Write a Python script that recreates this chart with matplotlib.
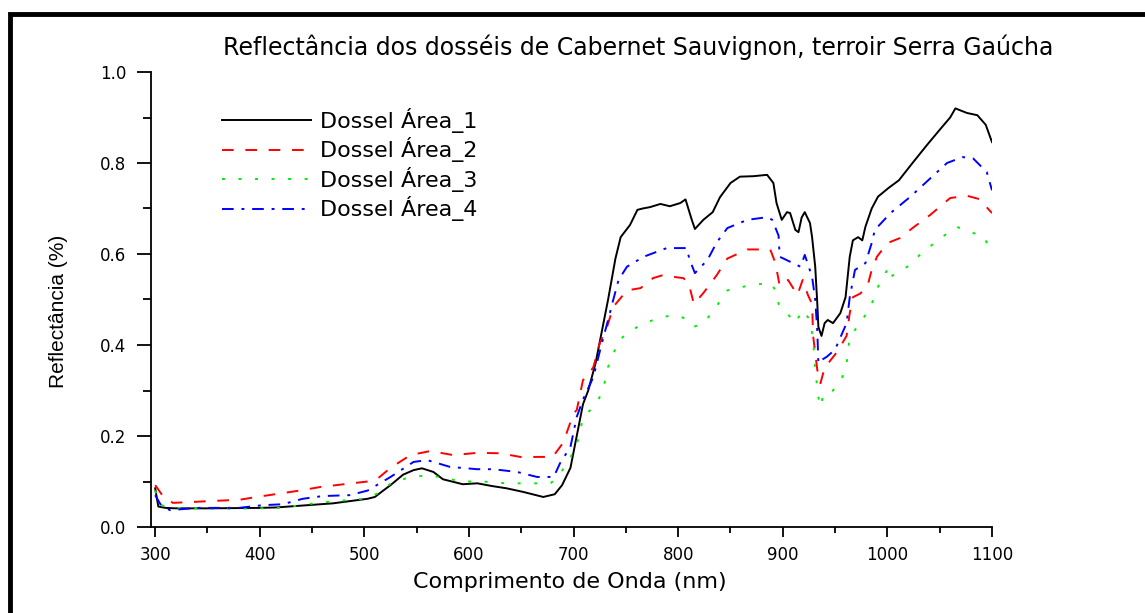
import matplotlib
matplotlib.use('Agg')
import matplotlib.pyplot as plt
from matplotlib.patches import Rectangle
from matplotlib.ticker import MultipleLocator

# Wavelengths (nm) and reflectance, one set per canopy area
wl_1 = [300, 303, 310, 320, 350, 400, 416, 440, 470, 503,
        510, 518, 525, 537, 547, 555, 566, 575, 594, 608,
        622, 636, 652, 671, 682, 689, 697, 703, 709, 714,
        721, 727, 733, 740, 745, 754, 761, 766, 773, 783,
        792, 802, 807, 813, 816, 824, 833, 840, 850, 859,
        872, 885, 891, 894, 899, 904, 907, 912, 915, 918,
        921, 926, 928, 931, 933, 934, 937, 940, 943, 948,
        955, 960, 964, 967, 972, 976, 979, 985, 991, 1001,
        1011, 1024, 1038, 1050, 1060, 1065, 1076, 1086, 1094, 1100]
r_1 = [0.085, 0.045, 0.042, 0.041, 0.041, 0.042, 0.043, 0.047, 0.052, 0.062,
       0.066, 0.080, 0.092, 0.115, 0.125, 0.129, 0.121, 0.105, 0.094, 0.096,
       0.090, 0.085, 0.077, 0.066, 0.072, 0.092, 0.130, 0.200, 0.270, 0.300,
       0.360, 0.430, 0.500, 0.590, 0.637, 0.664, 0.697, 0.700, 0.703, 0.710,
       0.705, 0.712, 0.720, 0.675, 0.655, 0.675, 0.692, 0.725, 0.756, 0.770,
       0.771, 0.774, 0.756, 0.712, 0.675, 0.692, 0.690, 0.653, 0.648, 0.680,
       0.692, 0.668, 0.637, 0.572, 0.490, 0.440, 0.420, 0.448, 0.455, 0.448,
       0.470, 0.505, 0.594, 0.630, 0.637, 0.630, 0.660, 0.700, 0.726, 0.745,
       0.762, 0.800, 0.840, 0.873, 0.900, 0.920, 0.910, 0.905, 0.884, 0.846]

wl_2 = [300, 308, 317, 335, 381, 397, 438, 458, 503, 512,
        525, 544, 563, 585, 608, 630, 649, 668, 680, 690,
        700, 703, 709, 713, 719, 725, 732, 738, 751, 764,
        776, 786, 798, 805, 810, 815, 824, 837, 847, 866,
        888, 893, 897, 905, 914, 919, 924, 928, 929, 933,
        936, 940, 952, 961, 964, 967, 974, 981, 985, 990,
        1000, 1012, 1024, 1041, 1060, 1076, 1089, 1096, 1100]
r_2 = [0.092, 0.066, 0.053, 0.055, 0.060, 0.066, 0.080, 0.088, 0.100, 0.105,
       0.130, 0.158, 0.167, 0.158, 0.163, 0.162, 0.154, 0.154, 0.154, 0.185,
       0.250, 0.257, 0.323, 0.330, 0.352, 0.404, 0.440, 0.484, 0.520, 0.525,
       0.547, 0.554, 0.549, 0.547, 0.536, 0.490, 0.514, 0.554, 0.590, 0.610,
       0.610, 0.580, 0.530, 0.543, 0.510, 0.543, 0.510, 0.490, 0.420, 0.345,
       0.316, 0.350, 0.385, 0.420, 0.470, 0.505, 0.513, 0.530, 0.565, 0.594,
       0.624, 0.635, 0.657, 0.686, 0.723, 0.728, 0.720, 0.700, 0.690]

wl_3 = [300, 305, 320, 350, 400, 420, 455, 503, 518, 525,
        544, 563, 575, 594, 613, 636, 678, 684, 694, 703,
        709, 722, 728, 733, 738, 743, 754, 767, 786, 798,
        810, 815, 824, 833, 847, 866, 888, 895, 896, 904,
        912, 919, 926, 929, 931, 934, 936, 939, 948, 957,
        961, 964, 974, 984, 991, 1001, 1003, 1019, 1031, 1048,
        1066, 1079, 1092, 1098, 1100]
r_3 = [0.080, 0.048, 0.042, 0.040, 0.041, 0.042, 0.053, 0.063, 0.080, 0.096,
       0.110, 0.114, 0.108, 0.100, 0.100, 0.096, 0.096, 0.108, 0.140, 0.180,
       0.240, 0.272, 0.300, 0.352, 0.380, 0.410, 0.430, 0.448, 0.462, 0.466,
       0.455, 0.440, 0.448, 0.473, 0.520, 0.530, 0.537, 0.514, 0.490, 0.470,
       0.448, 0.477, 0.455, 0.410, 0.345, 0.286, 0.264, 0.294, 0.300, 0.330,
       0.360, 0.418, 0.448, 0.484, 0.528, 0.570, 0.550, 0.572, 0.598, 0.630,
       0.660, 0.648, 0.640, 0.610, 0.605]

wl_4 = [300, 305, 314, 340, 380, 403, 422, 441, 460, 486,
        503, 525, 547, 560, 582, 608, 623, 646, 665, 681,
        687, 697, 703, 709, 719, 727, 733, 738, 743, 751,
        767, 789, 808, 811, 816, 828, 837, 847, 866, 885,
        890, 896, 897, 907, 917, 921, 928, 931, 933, 934,
        937, 942, 950, 961, 964, 969, 979, 985, 988, 1003,
        1022, 1039, 1057, 1072, 1082, 1095, 1100]
r_4 = [0.070, 0.050, 0.037, 0.042, 0.042, 0.048, 0.050, 0.062, 0.068, 0.070,
       0.080, 0.110, 0.143, 0.147, 0.132, 0.127, 0.127, 0.121, 0.110, 0.110,
       0.140, 0.176, 0.242, 0.280, 0.330, 0.404, 0.455, 0.500, 0.543, 0.572,
       0.594, 0.613, 0.613, 0.587, 0.558, 0.587, 0.626, 0.657, 0.675, 0.681,
       0.675, 0.640, 0.594, 0.583, 0.572, 0.598, 0.550, 0.500, 0.430, 0.360,
       0.367, 0.374, 0.390, 0.448, 0.505, 0.565, 0.580, 0.624, 0.653, 0.690,
       0.726, 0.762, 0.800, 0.813, 0.810, 0.780, 0.740]

labels = ['Dossel Área_1', 'Dossel Área_2', 'Dossel Área_3', 'Dossel Área_4']

plt.rcParams['font.family'] = ['DejaVu Sans']

fig = plt.figure(figsize=(11.45, 6.13), dpi=100)
ax = fig.add_axes([151 / 1145, 1 - 527 / 613, 841 / 1145, 455 / 613])

ax.plot(wl_1, r_1, color='black', lw=1.4, ls='-', label=labels[0])
ax.plot(wl_2, r_2, color='red', lw=1.4, ls=(0, (6, 6)), label=labels[1])
ax.plot(wl_3, r_3, color='#00ee00', lw=1.4, ls=(0, (1.5, 7)), label=labels[2])
ax.plot(wl_4, r_4, color='blue', lw=1.4, ls=(0, (6, 4, 1.5, 4)), label=labels[3])

ax.set_xlim(296, 1100)
ax.set_ylim(0, 1.0)
ax.spines['top'].set_visible(False)
ax.spines['right'].set_visible(False)
for s in ['left', 'bottom']:
    ax.spines[s].set_linewidth(1.3)

ax.xaxis.set_minor_locator(MultipleLocator(50))
ax.yaxis.set_minor_locator(MultipleLocator(0.1))
ax.set_xticks(range(300, 1101, 100))
ax.set_yticks([0.0, 0.2, 0.4, 0.6, 0.8, 1.0])
ax.set_yticklabels(['0.0', '0.2', '0.4', '0.6', '0.8', '1.0'])
ax.tick_params(axis='x', which='major', direction='out', length=7, width=1.3, labelsize=12, pad=7)
ax.tick_params(axis='x', which='minor', direction='out', length=4, width=1.3)
ax.tick_params(axis='y', which='major', direction='out', length=10, width=1.3, labelsize=12, pad=8)
ax.tick_params(axis='y', which='minor', direction='out', length=6, width=1.3)

leg = ax.legend(loc='upper left', bbox_to_anchor=((222 - 151) / 841, (527 - 108) / 455),
                frameon=False, fontsize=16, handlelength=4.0, handletextpad=0.4,
                labelspacing=0.2, borderpad=0, borderaxespad=0)

fig.text(638 / 1145, 1 - 47 / 613, 'Reflectância dos dosséis de Cabernet Sauvignon, terroir Serra Gaúcha',
         ha='center', va='center', fontsize=17)
fig.text(570 / 1145, 1 - 582 / 613, 'Comprimento de Onda (nm)', ha='center', va='center', fontsize=16)
fig.text(58 / 1145, 1 - 311 / 613, 'Reflectância (%)', ha='center', va='center', rotation=90,
         fontsize=15, family=['Liberation Sans'])

# black frame around the plot
fig.patches.append(Rectangle((10.5 / 1145, -0.2), 1.2, 1 - 14 / 613 + 0.2, transform=fig.transFigure,
                             fill=False, edgecolor='black', lw=3.5, figure=fig))

plt.savefig('out.png', dpi=100)
